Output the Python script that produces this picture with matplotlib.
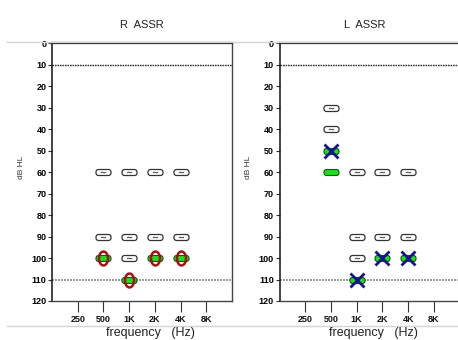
import numpy as np
import matplotlib
matplotlib.use("Agg")
import matplotlib.pyplot as plt
from matplotlib.path import Path
from matplotlib.lines import Line2D

plt.rcParams['font.family'] = ['Liberation Sans', 'DejaVu Sans']

# frequency axis
freq_labels = ['250', '500', '1K', '2K', '4K', '8K']
db_ticks = [0, 10, 20, 30, 40, 50, 60, 70, 80, 90, 100, 110, 120]

# right ear: no response ("~" boxes) and responses
r_nr_freq = ['500', '1K', '2K', '4K', '500', '1K', '2K', '4K', '1K']
r_nr_db = [60, 60, 60, 60, 90, 90, 90, 90, 100]
r_resp_freq = ['500', '2K', '4K', '1K']
r_resp_db = [100, 100, 100, 110]

# left ear
l_nr_freq = ['500', '500', '1K', '2K', '4K', '1K', '2K', '4K', '1K']
l_nr_db = [30, 40, 60, 60, 60, 90, 90, 90, 100]
l_resp_freq = ['500', '2K', '4K', '1K']
l_resp_db = [50, 100, 100, 110]
l_green_freq = ['500']
l_green_db = [60]


def fx(labels):
    return [freq_labels.index(f) + 1 for f in labels]


def rounded_box(w=15.0, h=6.0, r=2.5):
    # closed rounded rectangle path used as marker
    pts = []
    corners = [(w / 2 - r, h / 2 - r, 0), (-w / 2 + r, h / 2 - r, 90),
               (-w / 2 + r, -h / 2 + r, 180), (w / 2 - r, -h / 2 + r, 270)]
    for cx, cy, a0 in corners:
        for a in np.linspace(a0, a0 + 90, 6):
            t = np.radians(a)
            pts.append((cx + r * np.cos(t), cy + r * np.sin(t)))
    pts.append(pts[0])
    codes = [Path.MOVETO] + [Path.LINETO] * (len(pts) - 2) + [Path.CLOSEPOLY]
    return Path(pts, codes)


def ellipse(w=0.65):
    t = np.linspace(0, 2 * np.pi, 40)
    pts = list(zip(w * np.cos(t), np.sin(t)))
    codes = [Path.MOVETO] + [Path.LINETO] * (len(pts) - 2) + [Path.CLOSEPOLY]
    return Path(pts, codes)


BOX = rounded_box()
OVAL = ellipse()
W, H = 458, 340


def setup(ax, title, cx):
    ax.set_xlim(0, 7)
    ax.set_ylim(120, 0)
    ax.set_xticks(range(1, 7))
    ax.set_xticklabels(freq_labels)
    ax.set_yticks(db_ticks)
    ax.tick_params(axis='x', length=8, width=0.8, color='#333', labelsize=6.5,
                   labelcolor='#111', pad=2)
    ax.tick_params(axis='y', length=3, width=0.8, color='#333', labelsize=6.5,
                   labelcolor='#000', pad=1)
    for lab in ax.get_yticklabels() + ax.get_xticklabels():
        lab.set_fontweight('bold')
    for s in ['bottom', 'right']:
        ax.spines[s].set_color('#444')
        ax.spines[s].set_linewidth(1.0)
    ax.spines['left'].set_color('#111')
    ax.spines['left'].set_linewidth(1.1)
    ax.spines['top'].set_color('#111')
    ax.spines['top'].set_linewidth(1.6)
    ax.axhline(10, color='#333', lw=1.0, ls=(0, (1.2, 0.6)))
    ax.axhline(110, color='#8a8a8a', lw=1.2, ls=(0, (1.2, 0.6)))
    fig.text(cx / W, 1 - 25 / H, title, ha='center', va='center', fontsize=8,
             color='#222')
    fig.text((cx + 8) / W, 1 - 327 / H, 'frequency   (Hz)', ha='center', va='top',
             fontsize=9, color='#222')
    ax.text(-0.17, 0.52, 'dB HL', transform=ax.transAxes, rotation=90,
            ha='center', va='center', fontsize=6, color='#333')


def no_resp(ax, xs, ys):
    ax.plot(fx(xs), ys, ls='none', marker=BOX, ms=10.8, mfc='white',
            mec='#333', mew=0.9, zorder=3)
    ax.plot(fx(xs), ys, ls='none', marker=r'$\sim$', ms=3.6, mfc='#333',
            mec='#333', mew=0.2, zorder=4)


def green(ax, xs, ys):
    ax.plot(fx(xs), ys, ls='none', marker=BOX, ms=10.8, mfc='#19e019',
            mec='#1c4d1c', mew=0.8, zorder=3)


fig = plt.figure(figsize=(W / 100, H / 100), dpi=100)

# separator lines across the figure
fig.add_artist(Line2D([7 / W, 1], [1 - 41.5 / H] * 2, color='#d4d4d4', lw=1.0))
fig.add_artist(Line2D([7 / W, 1], [1 - 325.5 / H] * 2, color='#d4d4d4', lw=1.0))

ax1 = fig.add_axes([52 / W, 1 - 301 / H, 180 / W, 257.7 / H])
ax2 = fig.add_axes([279.5 / W, 1 - 301 / H, 180 / W, 257.7 / H])

setup(ax1, 'R  ASSR', 142)
setup(ax2, 'L  ASSR', 365)

no_resp(ax1, r_nr_freq, r_nr_db)
green(ax1, r_resp_freq, r_resp_db)
ax1.plot(fx(r_resp_freq), r_resp_db, ls='none', marker=OVAL, ms=10, mfc='none',
         mec='#a80f0f', mew=1.8, zorder=5)

no_resp(ax2, l_nr_freq, l_nr_db)
green(ax2, l_resp_freq, l_resp_db)
green(ax2, l_green_freq, l_green_db)
ax2.plot(fx(l_resp_freq), l_resp_db, ls='none', marker='x', ms=9.5,
         mec='#14148a', mew=2.0, zorder=5)

fig.savefig('out.png', dpi=100)
